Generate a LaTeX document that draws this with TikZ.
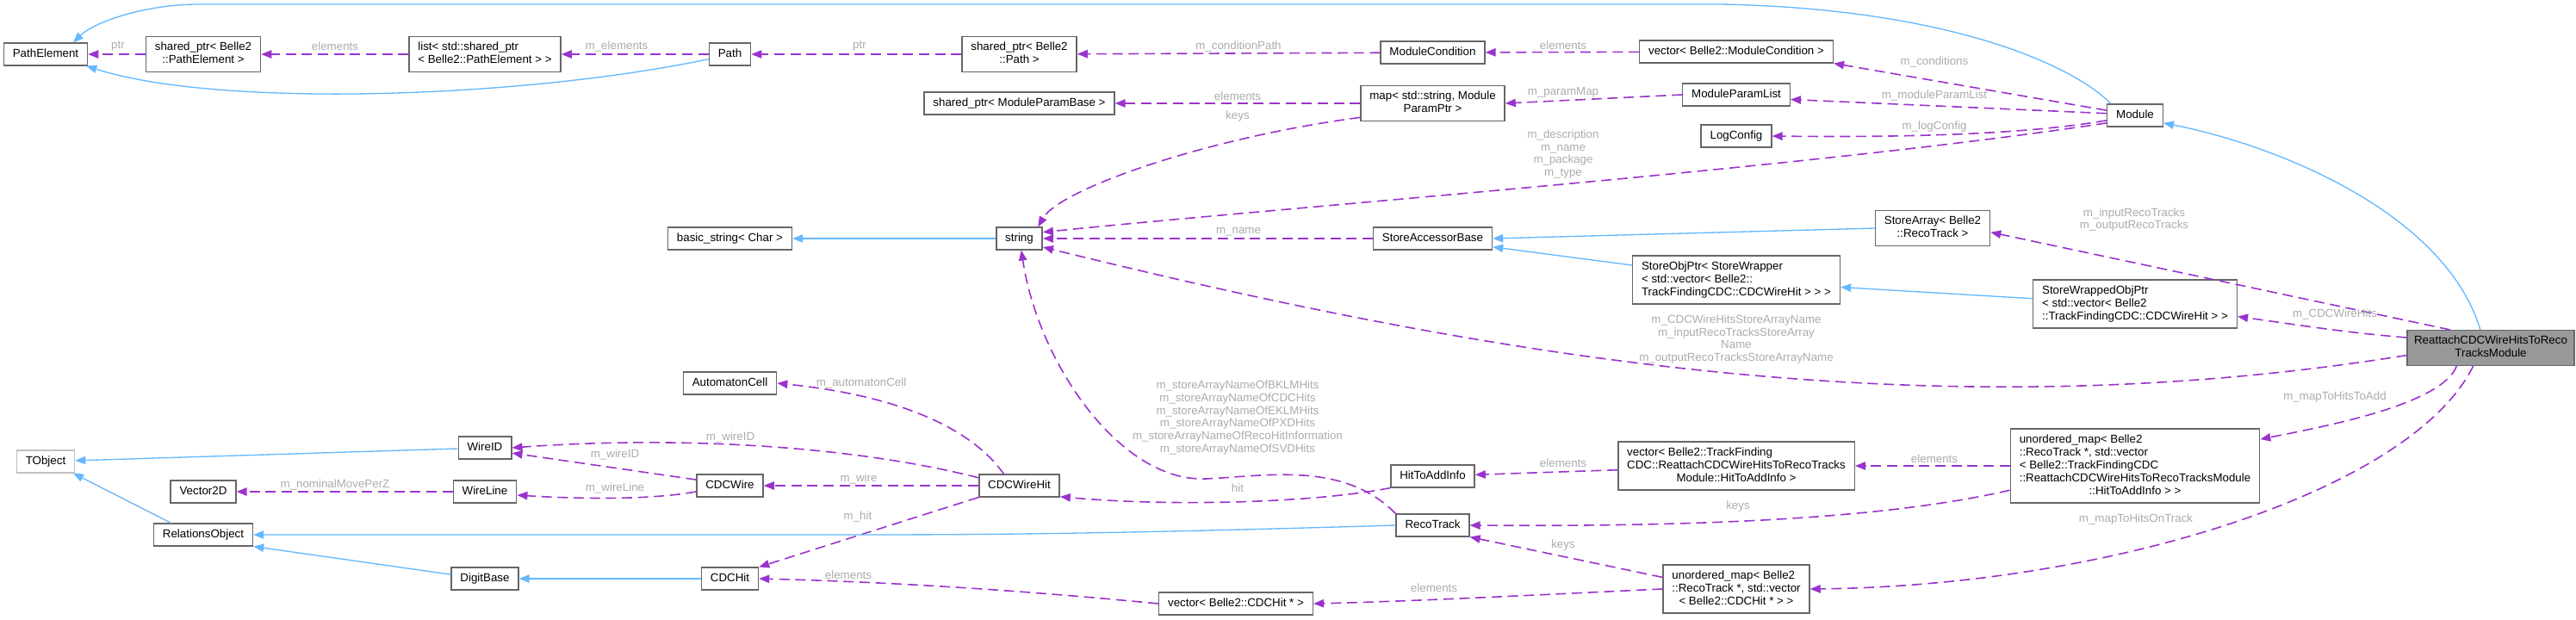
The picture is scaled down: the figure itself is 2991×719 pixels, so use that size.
\documentclass[tikz,border=0pt]{standalone}
\usepackage{fontspec}
\setmainfont{Liberation Sans}
\usetikzlibrary{arrows.meta}
\definecolor{boxline}{HTML}{666666}
\definecolor{extline}{HTML}{BFBFBF}
\definecolor{focusgray}{HTML}{999999}
\definecolor{lblgray}{HTML}{ABABAB}
\definecolor{usepurple}{HTML}{9A32CD}
\definecolor{inhblue}{HTML}{63B8FF}
\newcommand{\dlbl}[2]{\begin{tabular}{@{}l@{}}#1\\\multicolumn{1}{@{}c@{}}{#2}\end{tabular}}

\begin{document}
\begin{tikzpicture}[x=0.75pt, y=-0.75pt,
  box/.style={draw=boxline, line width=1.1pt, fill=white, inner xsep=7.8pt, inner ysep=4pt,
    font=\fontsize{10}{11.25}\selectfont, execute at begin node=\strut},
  lbl/.style={text=lblgray, font=\fontsize{10}{11}\selectfont, align=center, inner sep=0pt},
  uses/.style={draw=usepurple, line width=1.2pt, dash pattern=on 9pt off 5pt,
    -{Triangle[length=9pt, width=7pt]}},
  inherits/.style={draw=inhblue, line width=1pt, -{Triangle[length=9pt, width=7pt]}}]
\def \cola {53}
\def \colb {236}
\def \colc {563}
\def \cold {847.5}
\def \cole {1183.5}
\def \colf {1663.5}
\def \colg {2016}
\def \colh {2479}
\def \coli {2892}

\useasboundingbox (0,0) rectangle (2991,719);

%Path and module classes
\node[box] (pathelem) at (\cola,63) {PathElement};
\node[box] (sptrpe) at (\colb,63) {\dlbl{shared\_ptr< Belle2}{::PathElement >}};
\node[box] (listpe) at (\colc,63) {\dlbl{list< std::shared\_ptr}{< Belle2::PathElement > >}};
\node[box] (path) at (\cold,63) {Path};
\node[box] (sptrpath) at (\cole,63) {\dlbl{shared\_ptr< Belle2}{::Path >}};
\node[box] (modcond) at (\colf,61) {ModuleCondition};
\node[box] (vecmodcond) at (\colg,60) {vector< Belle2::ModuleCondition >};
\node[box] (sptrparam) at (\cole,120) {shared\_ptr< ModuleParamBase >};
\node[box] (parammap) at (\colf,120) {\dlbl{map< std::string, Module}{ParamPtr >}};
\node[box] (paramlist) at (\colg,110) {ModuleParamList};
\node[box] (logconfig) at (\colg,158) {LogConfig};
\node[box] (module) at (\colh,134) {Module};

%Strings and store accessors
\node[box] (basicstr) at (\cold,277) {basic\_string< Char >};
\node[box] (string) at (\cole,277) {string};
\node[box] (accessor) at (\colf,277) {StoreAccessorBase};
\node[box] (storearray) at (2244,265) {\dlbl{StoreArray< Belle2}{::RecoTrack >}};
\node[box] (objptr) at (\colg,325) {\dlbl{StoreObjPtr< StoreWrapper\\< std::vector< Belle2::}{TrackFindingCDC::CDCWireHit > > >}};
\node[box] (wrapped) at (\colh,353) {\dlbl{StoreWrappedObjPtr\\< std::vector< Belle2}{::TrackFindingCDC::CDCWireHit > >}};
\node[box, fill=focusgray, inner xsep=6pt] (reattach) at (\coli,404) {\dlbl{ReattachCDCWireHitsToReco}{TracksModule}};

%Hits and wires
\node[box] (autocell) at (\cold,445) {AutomatonCell};
\node[box, draw=extline] (tobject) at (\cola,536) {TObject};
\node[box] (wireid) at (\colc,520) {WireID};
\node[box] (vector2d) at (\colb,571) {Vector2D};
\node[box] (wireline) at (\colc,571) {WireLine};
\node[box] (cdcwire) at (\cold,564) {CDCWire};
\node[box] (cdcwirehit) at (\cole,564) {CDCWireHit};
\node[box] (hitinfo) at (\colf,553) {HitToAddInfo};
\node[box] (vechitinfo) at (\colg,541) {\dlbl{vector< Belle2::TrackFinding\\CDC::ReattachCDCWireHitsToRecoTracks}{Module::HitToAddInfo >}};
\node[box] (umaphit) at (\colh,541) {\dlbl{unordered\_map< Belle2\\::RecoTrack *, std::vector\\< Belle2::TrackFindingCDC\\::ReattachCDCWireHitsToRecoTracksModule}{::HitToAddInfo > >}};
\node[box] (relobj) at (\colb,621) {RelationsObject};
\node[box] (recotrack) at (\colf,610) {RecoTrack};
\node[box] (digitbase) at (\colc,672) {DigitBase};
\node[box] (cdchit) at (\cold,672) {CDCHit};
\node[box] (umapcdc) at (\colg,684) {\dlbl{unordered\_map< Belle2\\::RecoTrack *, std::vector}{< Belle2::CDCHit * > >}};
\node[box] (veccdchit) at (1435,701) {vector< Belle2::CDCHit * >};

%Path chain
\draw[uses] (sptrpe) -- (pathelem);
\draw[uses] (listpe) -- (sptrpe);
\draw[uses] (path) -- (listpe);
\draw[uses] (sptrpath) -- (path);
\draw[uses] (modcond) -- (sptrpath);
\draw[uses] (vecmodcond) -- (modcond);
\draw[inherits] (path.-167) .. controls (600,115) and (250,125) .. (pathelem.-16);

%Module members
\draw[inherits] (module.154) .. controls (2400,70) and (2250,10) .. (2000,5) -- (230,5) .. controls (170,5) and (110,25) .. (pathelem.23);
\draw[uses] (module.170) -- (vecmodcond.south east);
\draw[uses] (module.176) -- (paramlist.-5);
\draw[uses] (module.190) .. controls (2330,160) and (2150,159) .. (logconfig.east);
\draw[uses] (module.195) .. controls (2100,195) and (1500,240) .. (string.15);
\draw[uses] (paramlist.west) -- (parammap.east);
\draw[uses] (parammap) -- (sptrparam);
\draw[uses] (parammap.191) .. controls (1400,160) and (1230,220) .. (string.32);

%Store accessors
\draw[uses] (accessor) -- (string);
\draw[inherits] (string) -- (basicstr);
\draw[inherits] (storearray.west) -- (accessor.east);
\draw[inherits] (objptr.172) -- (accessor.-8);
\draw[inherits] (wrapped.177) -- (objptr.-4);

%Reattach members
\draw[uses] (reattach.156) -- (storearray.-4);
\draw[uses] (reattach.173) .. controls (2720,386) and (2660,376) .. (wrapped.-7);
\draw[uses] (reattach.185) .. controls (2250,500) and (1750,420) .. (string.-20);
\draw[inherits] (reattach.120) .. controls (2840,250) and (2650,170) .. (module.-15);
\draw[uses] (reattach.-152) .. controls (2835,470) and (2700,495) .. (umaphit.12);
\draw[uses] (reattach.-134) .. controls (2800,570) and (2450,680) .. (umapcdc.east);

%Maps and hits
\draw[uses] (umaphit) -- (vechitinfo);
\draw[uses] (umaphit.191) .. controls (2200,600) and (2000,612) .. (recotrack.east);
\draw[uses] (vechitinfo) -- (hitinfo);
\draw[uses] (hitinfo.south west) .. controls (1520,585) and (1350,588) .. (cdcwirehit.-15);
\draw[uses] (recotrack.north west) .. controls (1560,535) and (1470,553) .. (1400,556) .. controls (1300,560) and (1205,420) .. (string.-80);
\draw[uses] (umapcdc.171) -- (recotrack.south east);
\draw[uses] (umapcdc.west) .. controls (1800,690) and (1650,698) .. (veccdchit.east);
\draw[uses] (veccdchit.west) .. controls (1150,682) and (1000,675) .. (cdchit.east);

%Wire hit members
\draw[uses] (cdcwirehit) -- (cdcwire);
\draw[uses] (cdcwirehit.south west) -- (cdchit.north east);
\draw[uses] (cdcwirehit.169) .. controls (1000,520) and (800,505) .. (wireid.east);
\draw[uses] (cdcwirehit.143) .. controls (1130,500) and (1050,460) .. (autocell.east);
\draw[uses] (cdcwire.170) -- (wireid.-11);
\draw[uses] (cdcwire.-170) .. controls (760,580) and (680,580) .. (wireline.-6);
\draw[uses] (wireline) -- (vector2d);

%TObject tree
\draw[inherits] (wireid) -- (tobject);
\draw[inherits] (relobj.160) -- (tobject.-23);
\draw[inherits] (digitbase.173) -- (relobj.south east);
\draw[inherits] (cdchit) -- (digitbase);
\draw[inherits] (recotrack.west) .. controls (1350,618) and (1200,621) .. (1000,621) -- (relobj.east);

%Edge labels
\node[lbl] (lbptra) at (137,54) {ptr};
\node[lbl] (lbelema) at (389,54) {elements};
\node[lbl] (lbmelem) at (716,54) {m\_elements};
\node[lbl] (lbptrb) at (998,54) {ptr};
\node[lbl] (lbcondpath) at (1438,54) {m\_conditionPath};
\node[lbl] (lbelemb) at (1815,53) {elements};
\node[lbl] (lbconds) at (2246,72) {m\_conditions};
\node[lbl] (lbparamlist) at (2246,111) {m\_moduleParamList};
\node[lbl] (lblogcfg) at (2246,147) {m\_logConfig};
\node[lbl] (lbelemc) at (1437,112) {elements};
\node[lbl] (lbkeysa) at (1437,135) {keys};
\node[lbl] (lbparammap) at (1815,107) {m\_paramMap};
\node[lbl] (lbdesc) at (1815,179) {m\_description\\m\_name\\m\_package\\m\_type};
\node[lbl] (lbname) at (1438,269) {m\_name};
\node[lbl] (lbreco) at (2478,255) {m\_inputRecoTracks\\m\_outputRecoTracks};
\node[lbl] (lbcdcwh) at (2711,365) {m\_CDCWireHits};
\node[lbl] (lbstorenames) at (2016,394) {m\_CDCWireHitsStoreArrayName\\m\_inputRecoTracksStoreArray\\Name\\m\_outputRecoTracksStoreArrayName};
\node[lbl] (lbtoadd) at (2711,461) {m\_mapToHitsToAdd};
\node[lbl] (lbelemd) at (2246,533) {elements};
\node[lbl] (lbkeysb) at (2018,588) {keys};
\node[lbl] (lbontrack) at (2480,603) {m\_mapToHitsOnTrack};
\node[lbl] (lbeleme) at (1815,538) {elements};
\node[lbl] (lbhit) at (1437,567) {hit};
\node[lbl] (lbstore) at (1437,485) {m\_storeArrayNameOfBKLMHits\\m\_storeArrayNameOfCDCHits\\m\_storeArrayNameOfEKLMHits\\m\_storeArrayNameOfPXDHits\\m\_storeArrayNameOfRecoHitInformation\\m\_storeArrayNameOfSVDHits};
\node[lbl] (lbkeysc) at (1815,633) {keys};
\node[lbl] (lbelemf) at (1665,683) {elements};
\node[lbl] (lbauto) at (1000,445) {m\_automatonCell};
\node[lbl] (lbwireida) at (848,508) {m\_wireID};
\node[lbl] (lbwire) at (997,556) {m\_wire};
\node[lbl] (lbmhit) at (996,600) {m\_hit};
\node[lbl] (lbelemg) at (985,668) {elements};
\node[lbl] (lbwireidb) at (714,528) {m\_wireID};
\node[lbl] (lbwireline) at (714,567) {m\_wireLine};
\node[lbl] (lbmove) at (389,563) {m\_nominalMovePerZ};
\end{tikzpicture}
\end{document}
